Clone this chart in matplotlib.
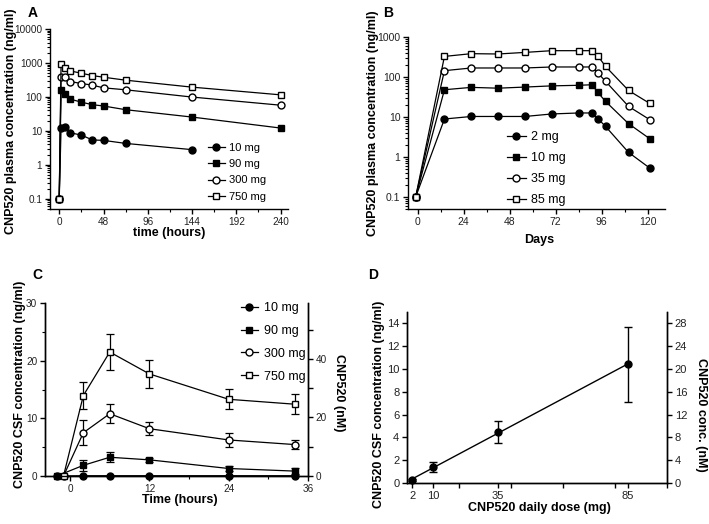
import numpy as np
import matplotlib
matplotlib.use("Agg")
import matplotlib.pyplot as plt
from matplotlib.ticker import FixedLocator, NullFormatter, LogLocator

plt.rcParams['font.family'] = ['Liberation Sans', 'DejaVu Sans']
plt.rcParams['axes.linewidth'] = 1.0

# --- Panel A: plasma PK, single dose (hours) ---
a_time = [0, 2, 6, 12, 24, 36, 48, 72, 144, 240]
a_labels = ["10 mg", "90 mg", "300 mg", "750 mg"]
a_10 = [0.1, 12.1, 13.2, 8.8, 7.5, 5.4, 5.25, 4.27, 2.8]
a_90 = [0.1, 155, 126, 86, 70, 59, 54, 42, 25.5, 12.1]
a_300 = [0.1, 380, 380, 283, 248, 222, 185, 162, 99, 57]
a_750 = [0.1, 937, 731, 583, 498, 425, 380, 311, 194, 115]

# --- Panel B: plasma PK, repeated dosing (days) ---
b_days = [-1, 14, 28, 42, 56, 70, 84, 91, 94, 98, 110, 121]
b_labels = ["2 mg", "10 mg", "35 mg", "85 mg"]
b_2 = [0.1, 8.9, 10.3, 10.3, 10.3, 11.9, 12.6, 12.6, 9.1, 5.8, 1.3, 0.53]
b_10 = [0.1, 48, 55, 52.5, 56, 60, 62, 64, 41, 24.5, 6.8, 2.87]
b_35 = [0.1, 144, 168, 168, 168, 178, 178, 178, 126, 78, 18.4, 8.6]
b_85 = [0.1, 327, 383, 376, 412, 455, 455, 455, 335, 184, 46, 21.9]

# --- Panel C: CSF concentration (hours) ---
c_time = [2, 6, 12, 24, 34]
c_pre = [-2, -2, -1, -1]
c_labels = ["10 mg", "90 mg", "300 mg", "750 mg"]
c_10 = [0.05, 0.05, 0.05, 0.05, 0.05]
c_90 = [1.85, 3.25, 2.8, 1.3, 0.85]
c_90_err = [0.9, 0.85, 0.4, 0.5, 0.5]
c_300 = [7.5, 10.8, 8.2, 6.25, 5.45]
c_300_err = [2.2, 1.6, 1.15, 1.15, 0.75]
c_750 = [13.95, 21.5, 17.7, 13.3, 12.45]
c_750_err = [2.3, 3.2, 2.5, 1.75, 1.75]
nm_per_ngml = 1.97

# --- Panel D: CSF vs daily dose ---
d_dose = [2, 10, 35, 85]
d_csf = [0.23, 1.39, 4.49, 10.4]
d_err = [0.08, 0.45, 0.94, 3.3]

fig = plt.figure(figsize=(7.09, 5.24), dpi=100)
W, H = 709, 524


def add_ax(x0, x1, ytop, ybot):
    return fig.add_axes([x0 / W, 1 - ybot / H, (x1 - x0) / W, (ybot - ytop) / H])


def style(ax, right=False, fs=7.2):
    ax.spines['top'].set_visible(False)
    if not right:
        ax.spines['right'].set_visible(False)
    ax.tick_params(which='major', direction='out', length=3.5, width=1.0,
                   labelsize=fs, labelcolor='#222222', pad=2)
    ax.tick_params(which='minor', direction='out', length=2, width=0.8)


def labels(ax, xl, yl, xpos, ypos):
    ax.set_xlabel(xl, fontsize=9, fontweight='bold')
    ax.set_ylabel(yl, fontsize=9, fontweight='bold')
    ax.xaxis.set_label_coords(*xpos)
    ax.yaxis.set_label_coords(*ypos)


mk = dict(ms=5, mec='black', mew=1.0, lw=0.9, color='black')
styles = [('o', 'black'), ('s', 'black'), ('o', 'white'), ('s', 'white')]

# Panel A
ax = add_ax(50, 288, 29, 209)
for ys, (m, fc), lab in zip([a_10, a_90, a_300, a_750], styles, a_labels):
    ax.plot(a_time[:len(ys)], ys, marker=m, mfc=fc, label=lab, **mk)
ax.set_yscale('log')
ax.set_ylim(0.05, 10000)
ax.set_xlim(-10, 248)
ax.set_yticks([0.1, 1, 10, 100, 1000, 10000])
ax.set_yticklabels(["0.1", "1", "10", "100", "1000", "10000"])
ax.yaxis.set_minor_locator(LogLocator(base=10, subs=np.arange(2, 10)))
ax.yaxis.set_minor_formatter(NullFormatter())
ax.set_xticks([0, 48, 96, 144, 192, 240])
ax.xaxis.set_minor_locator(FixedLocator([24, 72, 120, 168, 216]))
style(ax)
labels(ax, "time (hours)", "CNP520 plasma concentration (ng/ml)", (0.5, -0.1), (-0.139, 0.49))
ax.legend(loc='upper left', bbox_to_anchor=(0.64, 0.40), frameon=False, fontsize=8,
          handlelength=1.5, handletextpad=0.4, labelspacing=0.58, borderpad=0)
fig.text(33 / W, 1 - 13 / H, "A", fontsize=10, fontweight='bold', ha='center', va='center')

# Panel B
ax = add_ax(408, 665, 37, 209)
for ys, (m, fc), lab in zip([b_2, b_10, b_35, b_85], styles, b_labels):
    ax.plot(b_days, ys, marker=m, mfc=fc, label=lab, **mk)
ax.set_yscale('log')
ax.set_ylim(0.05, 1000)
ax.set_xlim(-5, 129)
ax.set_yticks([0.1, 1, 10, 100, 1000])
ax.set_yticklabels(["0.1", "1", "10", "100", "1000"])
ax.yaxis.set_minor_locator(LogLocator(base=10, subs=np.arange(2, 10)))
ax.yaxis.set_minor_formatter(NullFormatter())
ax.set_xticks([0, 24, 48, 72, 96, 120])
ax.xaxis.set_minor_locator(FixedLocator([12, 36, 60, 84, 108]))
style(ax, fs=7.5)
labels(ax, "Days", "CNP520 plasma concentration (ng/ml)", (0.51, -0.145), (-0.113, 0.5))
ax.legend(loc='upper left', bbox_to_anchor=(0.36, 0.49), frameon=False, fontsize=9,
          handlelength=1.5, handletextpad=0.4, labelspacing=0.72, borderpad=0)
fig.text(388 / W, 1 - 13 / H, "B", fontsize=10, fontweight='bold', ha='center', va='center')

# Panel C
ax = add_ax(45, 308, 303, 476)
c_series = [(c_10, None), (c_90, c_90_err), (c_300, c_300_err), (c_750, c_750_err)]
for (ys, err), (m, fc), lab, t0 in zip(c_series, styles, c_labels, c_pre):
    tt = [t0] + c_time
    yy = [0] + ys
    ax.plot(tt, yy, marker=m, mfc=fc, label=lab, zorder=3, clip_on=False, **mk)
    if err is not None:
        ax.errorbar(c_time, ys, yerr=err, fmt='none', ecolor='black', elinewidth=0.9,
                    capsize=3, capthick=0.9, zorder=2)
ax.set_xlim(-3.8, 36)
ax.set_ylim(0, 30)
ax.set_xticks([0, 12, 24, 36])
ax.xaxis.set_minor_locator(FixedLocator([6, 18, 30]))
ax.set_yticks([0, 10, 20, 30])
ax.yaxis.set_minor_locator(FixedLocator([5, 15, 25]))
style(ax, right=True)
labels(ax, "Time (hours)", "CNP520 CSF concentration (ng/ml)", (0.513, -0.105), (-0.072, 0.53))
ax.legend(loc='upper left', bbox_to_anchor=(0.72, 1.04), frameon=False, fontsize=9,
          handlelength=1.4, handletextpad=0.5, labelspacing=0.86, borderpad=0)
ax2 = ax.twinx()
ax2.set_ylim(0, 30 * nm_per_ngml)
ax2.set_yticks([0, 20, 40])
ax2.yaxis.set_minor_locator(FixedLocator([10, 30, 50]))
ax2.spines['top'].set_visible(False)
ax2.tick_params(which='major', direction='out', length=3.5, width=1.0, labelsize=7.2,
                labelcolor='#222222', pad=2)
ax2.tick_params(which='minor', direction='out', length=3.5, width=1.0)
ax2.set_ylabel("CNP520 (nM)", fontsize=9, fontweight='bold', rotation=270)
ax2.yaxis.set_label_coords(1.14, 0.48)
fig.text(37 / W, 1 - 275 / H, "C", fontsize=10, fontweight='bold', ha='center', va='center')

# Panel D
ax = add_ax(407, 667, 312, 483)
fit = np.polyfit(d_dose, d_csf, 1)
xf = np.array([d_dose[0], d_dose[-1]])
ax.plot(xf, np.polyval(fit, xf), color='black', lw=1.0)
ax.errorbar(d_dose, d_csf, yerr=d_err, fmt='o', ms=5, color='black', ecolor='black',
            elinewidth=1.0, capsize=3, capthick=1.0, clip_on=False)
ax.set_xlim(0, 100)
ax.set_ylim(0, 15)
ax.set_xticks(d_dose)
ax.xaxis.set_minor_locator(FixedLocator([20, 40, 60, 80, 100]))
ax.set_yticks(np.arange(0, 15, 2))
style(ax, right=True, fs=8)
ax.tick_params(which='minor', length=3.5, width=1.0)
labels(ax, "CNP520 daily dose (mg)", "CNP520 CSF concentration (ng/ml)", (0.51, -0.112), (-0.085, 0.46))
ax2 = ax.twinx()
ax2.set_ylim(0, 30)
ax2.set_yticks(np.arange(0, 29, 4))
ax2.spines['top'].set_visible(False)
ax2.tick_params(which='major', direction='out', length=3.5, width=1.0, labelsize=8,
                labelcolor='#222222', pad=2)
ax2.set_ylabel("CNP520 conc. (nM)", fontsize=9, fontweight='bold', rotation=270)
ax2.yaxis.set_label_coords(1.152, 0.40)
fig.text(373 / W, 1 - 275 / H, "D", fontsize=10, fontweight='bold', ha='center', va='center')

fig.savefig("out.png", dpi=100)
